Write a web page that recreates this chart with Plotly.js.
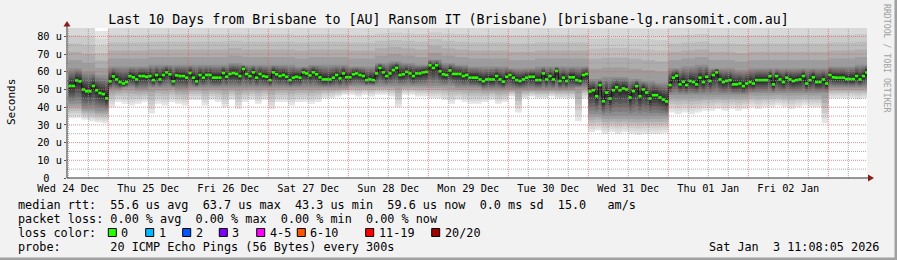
<!DOCTYPE html>
<html><head><meta charset="utf-8">
<script src="https://cdn.plot.ly/plotly-3.0.1.min.js"></script>
<style>html,body{margin:0;padding:0;background:#f2f2f2;}#chart{width:897px;height:260px;}</style>
</head><body><div id="chart"></div>
<script>
// ---------- DATA ----------
// hourly median RTT (us), starting Wed 24 Dec 12:00
const medDec24 = [52.0,52.0,55.1,54.6,50.0,49.0,49.0,52.0,49.6,48.0,47.4,45.0];
const medDec25 = [54.6,57.4,55.7,54.2,53.4,54.2,57.6,56.9,55.7,57.6,57.6,57.2,57.6,55.3,58.2,55.7,58.2,59.7,58.6,54.6,58.0,57.6,57.6,56.7];
const medDec26 = [59.3,56.7,54.6,58.2,56.7,58.2,58.2,56.7,56.7,56.7,59.3,57.2,58.8,59.3,58.8,57.6,61.6,58.8,57.6,59.7,56.7,58.8,57.6,57.2];
const medDec27 = [55.3,59.7,58.6,57.6,58.2,57.2,55.3,56.7,57.2,56.7,59.7,59.1,58.0,59.7,58.6,56.9,55.7,55.7,55.7,56.7,58.2,56.3,59.1,56.9];
const medDec28 = [56.9,58.6,59.1,58.2,57.6,55.3,55.7,55.3,59.1,62.2,59.7,57.6,59.1,61.0,62.2,58.2,58.6,60.0,59.1,57.6,59.1,59.1,59.7,60.0];
const medDec29 = [63.7,62.2,63.7,60.3,58.6,58.2,60.8,58.8,58.8,58.8,57.6,58.2,56.7,56.7,56.7,55.7,54.7,55.7,55.7,55.7,57.6,55.7,54.4,57.2];
const medDec30 = [58.2,56.7,55.3,54.8,55.7,56.7,57.2,57.2,55.3,55.3,59.1,55.7,57.6,55.7,60.5,54.8,56.7,54.8,56.9,56.9,55.3,54.8,58.2,58.8];
const medDec31 = [48.9,49.6,46.2,52.5,43.4,48.3,44.9,49.6,51.3,49.6,50.6,50.0,45.5,49.1,51.9,46.2,50.0,48.3,44.9,46.8,46.8,45.5,44.3,43.3];
const medJan01 = [52.5,56.7,57.8,52.9,54.4,52.5,54.8,54.2,52.9,56.7,54.2,57.2,54.8,58.2,59.7,55.7,54.2,54.9,55.3,52.9,52.9,53.4,51.9,53.4];
const medJan02 = [54.2,53.4,55.3,55.3,55.3,55.3,57.6,52.9,57.6,55.7,54.2,56.7,55.7,54.8,55.3,55.7,57.6,53.4,55.3,56.9,54.2,54.2,55.7,53.4];
const medJan03 = [58.2,56.9,56.7,56.7,56.7,55.9,55.9,55.9,57.6,55.7,57.6,59.6];

// lowest ping of each 2-hour step (bottom edge of the smoke)
const loDec24 = [33.8,34,33,32,31.5,31];
const loDec25 = [40,43,42,41,42,43,36.5,42,41,43,42,41];
const loDec26 = [44,44,41,44,43,40,44,39,43,44,42,44];
const loDec27 = [39,43,43,41,43,43,42,43,45,45,46,47];
const loDec28 = [47,46,47,46,47,47,46,40,47,47,46,46];
const loDec29 = [45,45,44,42,44,43,42,42,43,44,42,43];
const loDec30 = [46,37,45,46,45,45,46,45,45,45,32,45];
const loDec31 = [26,27,25,26,25,26,25,24.5,25,25,25,25.5];
const loJan01 = [37,36,37,36,37,38,38,39,38,39,38,39];
const loJan02 = [40,39,40,40,41,40,39,40,41,40,40,31];
const loJan03 = [45,45,45,45,44.5,45];

// bottom / top of the dark smoke core, 4-hour steps
const coreLoDec24 = [42,39,38];
const coreLoDec25 = [50,51,50,51,51,50];
const coreLoDec26 = [51,51,51,51,51,51];
const coreLoDec27 = [51,51,51,51,51,51];
const coreLoDec28 = [52,52,52,52,52,52];
const coreLoDec29 = [52,52,51,51,50,50];
const coreLoDec30 = [50,50,50,50,50,51];
const coreLoDec31 = [36,35,35,35,35,35];
const coreLoJan01 = [47,47,47,47,47,47];
const coreLoJan02 = [48,48,48,48,48,48];
const coreLoJan03 = [51,51,51];

const coreHiDec24 = [62,60,58];
const coreHiDec25 = [63,63,63,64,64,64];
const coreHiDec26 = [64,64,64,65,64,64];
const coreHiDec27 = [64,64,63,64,64,64];
const coreHiDec28 = [63,63,65,66,65,64];
const coreHiDec29 = [67,65,64,63,63,63];
const coreHiDec30 = [62,62,63,63,63,63];
const coreHiDec31 = [56,57,57,56,55,54];
const coreHiJan01 = [62,63,64,62,62,61];
const coreHiJan02 = [62,62,62,62,62,62];
const coreHiJan03 = [63,63,64];

// highest ping, 4-hour steps (mostly above the top of the graph)
const hiDec24 = [90,90,83];
const hiDec25 = [90,90,90,90,90,90];
const hiDec26 = [90,90,90,90,90,90];
const hiDec27 = [90,90,90,90,90,90];
const hiDec28 = [90,90,90,90,90,90];
const hiDec29 = [90,90,90,90,90,90];
const hiDec30 = [90,90,90,90,90,90];
const hiDec31 = [90,90,90,90,90,90];
const hiJan01 = [90,90,90,90,90,90];
const hiJan02 = [90,90,90,90,90,90];
const hiJan03 = [90,90,90];

const xTickVals = ['2025-12-24 12:00','2025-12-25 12:00','2025-12-26 12:00','2025-12-27 12:00','2025-12-28 12:00','2025-12-29 12:00','2025-12-30 12:00','2025-12-31 12:00','2026-01-01 12:00','2026-01-02 12:00'];
const xTickText = ['Wed 24 Dec','Thu 25 Dec','Fri 26 Dec','Sat 27 Dec','Sun 28 Dec','Mon 29 Dec','Tue 30 Dec','Wed 31 Dec','Thu 01 Jan','Fri 02 Jan'];
const yTickVals = [0,10,20,30,40,50,60,70,80];
const yTickText = ['0  ','10 u','20 u','30 u','40 u','50 u','60 u','70 u','80 u'];

const lossLabels = ['0','1','2','3','4-5','6-10','11-19','20/20'];
const lossColors = ['#26ff00','#00b8ff','#0059ff','#7e00ff','#ff00ff','#ff5500','#ff0000','#a10000'];

const legendLines = [
  'median rtt:  55.6 us avg  63.7 us max  43.3 us min  59.6 us now  0.0 ms sd  15.0   am/s',
  'packet loss: 0.00 % avg  0.00 % max  0.00 % min  0.00 % now',
  'loss color:',
  'probe:       20 ICMP Echo Pings (56 Bytes) every 300s'
];
const stampText = 'Sat Jan  3 11:08:05 2026';
const titleText = 'Last 10 Days from Brisbane to [AU] Ransom IT (Brisbane) [brisbane-lg.ransomit.com.au]';

// ---------- BUILD ----------
const med = [].concat(medDec24,medDec25,medDec26,medDec27,medDec28,medDec29,medDec30,medDec31,medJan01,medJan02,medJan03);
const lo = [].concat(loDec24,loDec25,loDec26,loDec27,loDec28,loDec29,loDec30,loDec31,loJan01,loJan02,loJan03);
const cLo = [].concat(coreLoDec24,coreLoDec25,coreLoDec26,coreLoDec27,coreLoDec28,coreLoDec29,coreLoDec30,coreLoDec31,coreLoJan01,coreLoJan02,coreLoJan03);
const cHi = [].concat(coreHiDec24,coreHiDec25,coreHiDec26,coreHiDec27,coreHiDec28,coreHiDec29,coreHiDec30,coreHiDec31,coreHiJan01,coreHiJan02,coreHiJan03);
const hi = [].concat(hiDec24,hiDec25,hiDec26,hiDec27,hiDec28,hiDec29,hiDec30,hiDec31,hiJan01,hiJan02,hiJan03);

const H = 3600e3;
const T0 = Date.UTC(2025,11,24,12);
const fmt = ms => new Date(ms).toISOString().slice(0,16).replace('T',' ');
const N = med.length;
const xs = []; for (let i=0;i<=N;i++) xs.push(fmt(T0+i*H));

function lowerAt(i,f){const l=lo[i>>1],c=cLo[i>>2],m=med[i]-0.8;return f<0.5? l+(c-l)*f/0.5 : c+(m-c)*(f-0.5)/0.5;}
function upperAt(i,f){const h=hi[i>>2],c=cHi[i>>2],m=med[i]+0.8;return f<0.5? h+(c-h)*f/0.5 : c+(m-c)*(f-0.5)/0.5;}

const traces = [];
const NB = 12;
for (let k=0;k<NB;k++){
  const f = k/NB;
  const g = Math.round(232 - 190*Math.pow((k+0.5)/NB,1.2));
  const col = `rgb(${g},${g},${g})`;
  const yl=[], yu=[];
  for (let i=0;i<N;i++){yl.push(lowerAt(i,f)); yu.push(upperAt(i,f));}
  yl.push(yl[N-1]); yu.push(yu[N-1]);
  traces.push({x:xs,y:yl,mode:'lines',line:{width:0,shape:'hv'},hoverinfo:'skip',showlegend:false});
  traces.push({x:xs,y:yu,mode:'lines',line:{width:0,shape:'hv'},fill:'tonexty',fillcolor:col,hoverinfo:'skip',showlegend:false});
}
// median: thin dark step line + green segments
const medY = med.concat([med[N-1]]);
traces.push({x:xs,y:medY,mode:'lines',line:{width:1,color:'#111',shape:'hv'},hoverinfo:'skip',showlegend:false});
const gx=[],gy=[];
for (let i=0;i<N;i++){gx.push(xs[i],xs[i+1],null);gy.push(med[i],med[i],null);}
traces.push({x:gx,y:gy,mode:'lines',line:{width:2.6,color:lossColors[0]},hoverinfo:'skip',showlegend:false,connectgaps:false});

// ---------- LAYOUT ----------
const L=67,R=867,T=28,B=178;
const px = v => (v-L)/(R-L);
const py = v => (B-v)/(B-T);
const nb = s => s.replace(/ /g,'\u00a0');

const shapes = [];
const GRID='rgba(150,150,150,0.8)', MGRID='rgba(225,90,90,0.7)';
for (let i=0;i<=40;i++){
  const ms = Date.UTC(2025,11,24,12)+i*6*H;
  const d = new Date(ms);
  const major = d.getUTCHours()===0;
  shapes.push({type:'line',layer:'above',xref:'x',yref:'paper',x0:fmt(ms),x1:fmt(ms),y0:0,y1:1,line:{color:major?MGRID:GRID,width:1,dash:'1px,1px'}});
}
for (let v=5;v<=80;v+=5){
  shapes.push({type:'line',layer:'above',xref:'paper',yref:'y',x0:0,x1:1,y0:v,y1:v,line:{color:(v%10===0)?MGRID:GRID,width:1,dash:'1px,1px'}});
}
// axis lines and arrows
shapes.push({type:'line',layer:'above',xref:'paper',yref:'paper',x0:px(67),x1:px(67),y0:py(178),y1:py(25),line:{color:'#333',width:1}});
shapes.push({type:'line',layer:'above',xref:'paper',yref:'paper',x0:px(67),x1:px(869),y0:py(178),y1:py(178),line:{color:'#333',width:1}});
shapes.push({type:'path',layer:'above',xref:'paper',yref:'paper',path:`M${px(63.5)},${py(26.5)} L${px(70.5)},${py(26.5)} L${px(67)},${py(21)} Z`,fillcolor:'#8b1a1a',line:{width:0}});
shapes.push({type:'path',layer:'above',xref:'paper',yref:'paper',path:`M${px(868)},${py(174.5)} L${px(868)},${py(181.5)} L${px(874)},${py(178)} Z`,fillcolor:'#8b1a1a',line:{width:0}});
// frame shade
shapes.push({type:'rect',layer:'above',xref:'paper',yref:'paper',x0:px(0),x1:px(897),y0:py(260),y1:py(257.5),fillcolor:'#a0a0a0',line:{width:0}});
shapes.push({type:'rect',layer:'above',xref:'paper',yref:'paper',x0:px(894.5),x1:px(897),y0:py(260),y1:py(0),fillcolor:'#a0a0a0',line:{width:0}});

const MONO='DejaVu Sans Mono';
const annotations = [];
const rowY=[205,219,233,247];
legendLines.forEach((t,i)=>annotations.push({xref:'paper',yref:'paper',x:px(16),y:py(rowY[i]),xanchor:'left',yanchor:'middle',showarrow:false,text:nb(t),font:{family:MONO,size:11.8,color:'#000'}}));
const boxX=[108.3,145.7,182.7,219.3,256.7,297.3,365.7,431.7];
lossLabels.forEach((lab,i)=>{
  shapes.push({type:'rect',layer:'above',xref:'paper',yref:'paper',x0:px(boxX[i]),x1:px(boxX[i]+8),y0:py(236.5),y1:py(228.5),fillcolor:lossColors[i],line:{color:'#000',width:1}});
  annotations.push({xref:'paper',yref:'paper',x:px(boxX[i]+11),y:py(rowY[2]),xanchor:'left',yanchor:'middle',showarrow:false,text:nb(lab),font:{family:MONO,size:11.8,color:'#000'}});
});
annotations.push({xref:'paper',yref:'paper',x:px(881),y:py(rowY[3]),xanchor:'right',yanchor:'middle',showarrow:false,text:nb(stampText),font:{family:MONO,size:11.8,color:'#000'}});
annotations.push({xref:'paper',yref:'paper',x:px(11),y:py(102),xanchor:'center',yanchor:'middle',textangle:-90,showarrow:false,text:'Seconds',font:{family:MONO,size:11,color:'#000'}});
annotations.push({xref:'paper',yref:'paper',x:px(887),y:py(59),xanchor:'center',yanchor:'middle',textangle:90,showarrow:false,text:nb('RRDTOOL / TOBI OETIKER'),font:{family:MONO,size:8.2,color:'#a0a0a0'}});

const layout = {
  width:897,height:260,
  margin:{l:67,r:30,t:28,b:82,pad:0},
  paper_bgcolor:'#f2f2f2',plot_bgcolor:'#ffffff',
  showlegend:false,
  title:{text:titleText,font:{family:MONO,size:13.3,color:'#000'},x:0.5,xref:'container',xanchor:'center',y:1-19/260,yref:'container',yanchor:'middle'},
  xaxis:{type:'date',range:['2025-12-24 11:36','2026-01-03 11:36'],tickmode:'array',tickvals:xTickVals,ticktext:xTickText,
    showgrid:false,zeroline:false,showline:false,ticks:'',ticklabelstandoff:3,tickfont:{family:MONO,size:10.3,color:'#000'},fixedrange:true},
  yaxis:{range:[0,84.75],tickmode:'array',tickvals:yTickVals,ticktext:yTickText.map(nb),showgrid:false,zeroline:false,showline:false,
    ticks:'outside',ticklen:2,tickcolor:'#555',tickfont:{family:MONO,size:10.3,color:'#000'},fixedrange:true},
  shapes:shapes,annotations:annotations
};
Plotly.newPlot('chart',traces,layout,{displayModeBar:false,staticPlot:true});
</script></body></html>
